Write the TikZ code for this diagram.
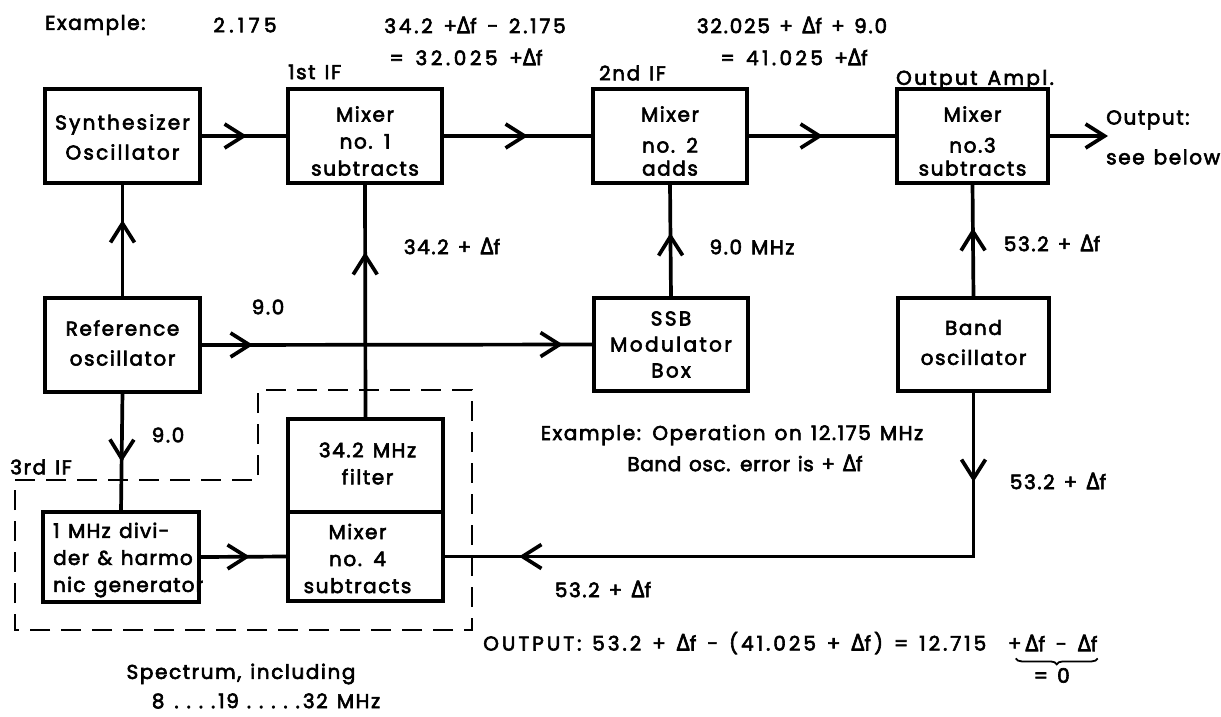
\documentclass[tikz,border=0pt]{standalone}
\usepackage{fontspec}
\setmainfont{Poppins}[LetterSpace=8, FakeBold=3, WordSpace=1.3]
\newfontfamily\greekfont{Open Sans}[Scale=1.15, FakeBold=3]
\usetikzlibrary{arrows.meta,decorations.markings,decorations.pathreplacing,calc}
\newcommand\dlt{{\greekfont Δ}}
\newcommand\sdot{.\hspace{8pt}}
\begin{document}
\begin{tikzpicture}[x=1pt,y=-1pt,
  every node/.style={font=\fontsize{20}{27}\selectfont, inner sep=0pt},
  spaced/.style={font=\fontsize{20}{27}\selectfont\addfontfeature{LetterSpace=#1}},
  blk/.style={draw, line width=3.5pt, outer sep=0pt},
  txt/.style={align=center},
  wire/.style={line width=3.7pt},
  tipat/.style={postaction={decorate,decoration={markings,
      mark=at position #1 with {\arrow{Straight Barb[length=19pt,width=24pt,line width=3.7pt]}}}}},
  dashline/.style={line width=2.3pt, dash pattern=on 20pt off 11pt},
  lbl/.style={anchor=center}
]
\useasboundingbox (0,0) rectangle (1221,716);

% top-row blocks
\node[blk, minimum width=155pt, minimum height=94pt] (synth) at (122.5,136) {};
\node[blk, minimum width=154pt, minimum height=94pt] (mix1) at (365,136) {};
\node[blk, minimum width=154pt, minimum height=94pt] (mix2) at (670,136) {};
\node[blk, minimum width=151pt, minimum height=94pt] (mix3) at (972.5,136) {};
\node[txt, spaced=11] (synthT) at ($(synth)+(0,1)$) {Synthesizer\\[3pt]Oscillator};
\node[txt] (mix1T) at ($(mix1)+(0,5)$) {Mixer\\no. 1\\subtracts};
\node[txt] (mix2T) at ($(mix2)+(0,5)$) {Mixer\\[4pt]no. 2\\[-4pt]adds};
\node[txt] (mix3T) at ($(mix3)+(0,5)$) {Mixer\\[4pt]no.3\\[-4pt]subtracts};

% middle-row blocks
\node[blk, minimum width=155pt, minimum height=94pt] (ref) at (122.5,345) {};
\node[blk, minimum width=154pt, minimum height=93pt] (ssb) at (671,344.5) {};
\node[blk, minimum width=151pt, minimum height=93pt] (band) at (973.5,344.5) {};
\node[txt] (refT) at ($(ref)+(0,-2)$) {Reference\\[3pt]oscillator};
\node[txt, spaced=12] (ssbT) at ($(ssb)+(0,0)$) {SSB\\[-1pt]Modulator\\[-1pt]Box};
\node[txt] (bandT) at ($(band)+(0,-2)$) {Band\\[3pt]oscillator};

% bottom-row blocks
\node[blk, minimum width=155pt, minimum height=93pt] (filter) at (365.5,465.5) {};
\node[blk, minimum width=155pt, minimum height=89pt] (mix4) at (365.5,556.5) {};
\node[blk, minimum width=156pt, minimum height=90pt] (div) at (121,557) {};
\node[txt] (filterT) at ($(filter)+(2,-2)$) {34.2 MHz\\filter};
\node[txt] (mix4T) at ($(mix4)+(-8,2)$) {Mixer\\no. 4\\subtracts};
\node[align=left, anchor=west, spaced=6] (divT) at ($(div.west)+(10,3)$) {1 MHz divi-\\der \& harmo\\nic generator};

% output end point
\coordinate (outc) at (1108,136);

% signal paths
\draw[wire, tipat=47pt] (synth.east) -- (mix1.west);
\draw[wire, tipat=86pt] (mix1.east) -- (mix2.west);
\draw[wire, tipat=76pt] (mix2.east) -- (mix3.west);
\draw[wire, -{Straight Barb[length=19pt,width=24pt,line width=3.7pt]}] (mix3.east) -- (outc);
\draw[wire, tipat=78pt] (ref.north) -- (synth.south);
\draw[wire, tipat=167pt] (filter.north) -- (mix1.south);
\draw[wire, tipat=65pt] (ssb.north) -- (mix2.south);
\draw[wire, tipat=70pt] (band.north) -- (mix3.south);
\draw[wire, tipat=53pt, tipat=363pt] (ref.east) -- (ssb.west);
\draw[wire, tipat=70pt] (ref.south) -- (div.north);
\draw[wire, tipat=51pt] (div.east) -- (mix4.west);
\draw[wire, tipat=91pt, tipat=620pt] (band.south) |- (mix4.east);

% 3rd IF enclosure
\draw[dashline] (15,480) -- (258,480) -- (258,390) -- (472,390) -- (472,630) -- (15,630) -- cycle;

% headings and frequency labels
\node[anchor=west] (ex) at (45,25) {Example:};
\node[lbl, spaced=22] (f1) at (245,25) {2.175};
\node[lbl, spaced=14] (f2a) at (475,25) {34.2 +\dlt f - 2.175};
\node[lbl, spaced=18] (f2b) at (466,57) {= 32.025 +\dlt f};
\node[lbl, spaced=9] (f3a) at (792,25) {32.025 + \dlt f + 9.0};
\node[lbl, spaced=17] (f3b) at (794,57) {= 41.025 +\dlt f};
\node[anchor=west] (if1) at (288,72) {1st IF};
\node[anchor=west] (if2) at (599,73) {2nd IF};
\node[lbl, spaced=12] (oamp) at (975,80) {Output Ampl.};
\node[anchor=west] (out1) at (1106,120) {Output:};
\node[anchor=west] (out2) at (1106,157) {see below};

\node[lbl] (l9a) at (268,307) {9.0};
\node[lbl] (l34) at (452,246) {34.2 + \dlt f};
\node[lbl] (l9m) at (752,247) {9.0 MHz};
\node[lbl] (l53a) at (1052,243) {53.2 + \dlt f};
\node[lbl] (l9b) at (168,435) {9.0};
\node[lbl] (if3) at (41,467) {3rd IF};
\node[lbl] (l53b) at (1058,481) {53.2 + \dlt f};
\node[lbl] (l53c) at (603,589) {53.2 + \dlt f};

\node[lbl] (exa) at (732,435) {Example: Operation on 12.175 MHz};
\node[lbl, spaced=3] (exb) at (745,463) {Band osc. error is + \dlt f};

% output formula with cancelling error terms
\node[anchor=west, spaced=15] (outeq) at (483,643) {OUTPUT: 53.2 + \dlt f - (41.025 + \dlt f) = 12.715\ \ +};
\node[anchor=west, spaced=15] (canc) at (outeq.east) {\,\dlt f - \dlt f};
\draw[line width=1.8pt, decorate, decoration={brace, mirror, amplitude=6pt}]
  ($(canc.south west)+(-6,7)$) -- ($(canc.south east)+(0,7)$);
\node[lbl] (zero) at ($(canc.south)+(-8,24)$) {= 0};

% spectrum note
\node[lbl] (sp1) at (241,674) {Spectrum, including};
\node[lbl] (sp2) at (266,701) {8\hspace{10pt}\sdot\sdot\sdot.\hspace{3pt}19\hspace{8pt}\sdot\sdot\sdot\sdot.\hspace{3pt}32 MHz};
\end{tikzpicture}
\end{document}
